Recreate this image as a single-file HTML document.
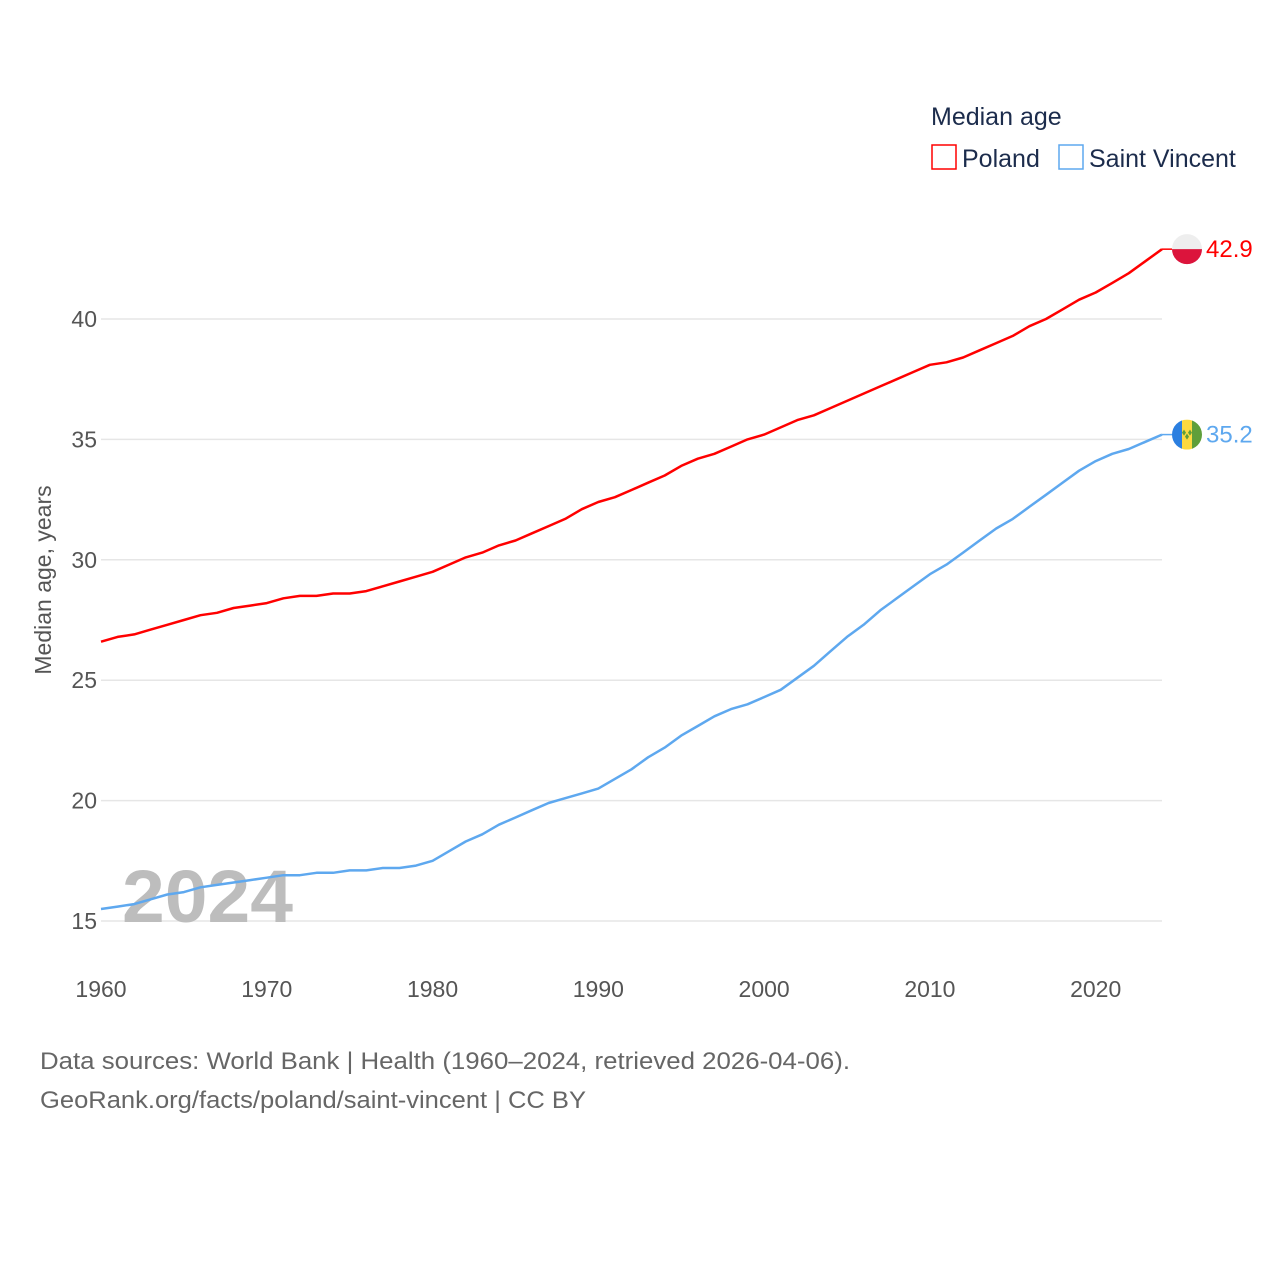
<!DOCTYPE html>
<html><head><meta charset="utf-8"><style>
body{margin:0;background:#fff;}
svg text{font-family:"Liberation Sans",sans-serif;}
</style></head><body>
<svg id="chart" width="1280" height="1280" viewBox="0 0 1280 1280" xmlns="http://www.w3.org/2000/svg">
<rect width="1280" height="1280" fill="#fff"/>
<g id="grid"></g>
<g id="yticks"></g>
<g id="xticks"></g>
<text x="122" y="922" font-size="74" font-weight="bold" fill="#bdbdbd" textLength="171" lengthAdjust="spacingAndGlyphs">2024</text>
<g id="lines"></g>
<text transform="translate(51,580) rotate(-90)" text-anchor="middle" font-size="23" fill="#555">Median age, years</text>
<text x="931" y="125" font-size="25" fill="#1c2c4c">Median age</text>
<g>
<rect x="932" y="145" width="24" height="24" fill="none" stroke="#ff0000" stroke-width="1.5"/>
<text x="962" y="167" font-size="25" fill="#1c2c4c">Poland</text></g>
<g>
<rect x="1059" y="145" width="24" height="24" fill="none" stroke="#5ea8ef" stroke-width="1.5"/>
<text x="1089" y="167" font-size="25" fill="#1c2c4c">Saint Vincent</text></g>
<text x="40" y="1069" font-size="24" fill="#666" textLength="810" lengthAdjust="spacingAndGlyphs">Data sources: World Bank | Health (1960–2024, retrieved 2026-04-06).</text>
<text x="40" y="1108" font-size="24" fill="#666" textLength="546" lengthAdjust="spacingAndGlyphs">GeoRank.org/facts/poland/saint-vincent | CC BY</text>
</svg>
<script>
const years=[];for(let y=1960;y<=2024;y++)years.push(y);
const poland=[26.6,26.8,26.9,27.1,27.3,27.5,27.7,27.8,28.0,28.1,
28.2,28.4,28.5,28.5,28.6,28.6,28.7,28.9,29.1,29.3,
29.5,29.8,30.1,30.3,30.6,30.8,31.1,31.4,31.7,32.1,
32.4,32.6,32.9,33.2,33.5,33.9,34.2,34.4,34.7,35.0,
35.2,35.5,35.8,36.0,36.3,36.6,36.9,37.2,37.5,37.8,
38.1,38.2,38.4,38.7,39.0,39.3,39.7,40.0,40.4,40.8,
41.1,41.5,41.9,42.4,42.9];
const saintVincent=[15.5,15.6,15.7,15.9,16.1,16.2,16.4,16.5,16.6,16.7,
16.8,16.9,16.9,17.0,17.0,17.1,17.1,17.2,17.2,17.3,
17.5,17.9,18.3,18.6,19.0,19.3,19.6,19.9,20.1,20.3,
20.5,20.9,21.3,21.8,22.2,22.7,23.1,23.5,23.8,24.0,
24.3,24.6,25.1,25.6,26.2,26.8,27.3,27.9,28.4,28.9,
29.4,29.8,30.3,30.8,31.3,31.7,32.2,32.7,33.2,33.7,
34.1,34.4,34.6,34.9,35.2];
const yTicks=[15,20,25,30,35,40];
const xTicks=[1960,1970,1980,1990,2000,2010,2020];
const NS="http://www.w3.org/2000/svg";
const X=v=>101+(v-1960)*(1061/64);
const Y=v=>921-(v-15)*(602/25);
function mk(tag,attrs,parent){const e=document.createElementNS(NS,tag);for(const k in attrs)e.setAttribute(k,attrs[k]);parent.appendChild(e);return e;}
const grid=document.getElementById('grid'),yt=document.getElementById('yticks'),xt=document.getElementById('xticks'),lines=document.getElementById('lines');
yTicks.forEach(t=>{
 const l=mk('line',{x1:101,x2:1162,y1:Y(t),y2:Y(t),stroke:'#e6e6e6','stroke-width':1.5},grid);
 
 
 const tx=mk('text',{x:97,y:Y(t)+8,'text-anchor':'end','font-size':23,fill:'#555'},yt);
 tx.textContent=t;
 
 
});
xTicks.forEach(t=>{
 const tx=mk('text',{x:X(t),y:997,'text-anchor':'middle','font-size':23,fill:'#555'},xt);
 tx.textContent=t;
 
 
});
function series(vals,color,name,label,flag){
 const d=vals.map((v,i)=>(i?'L':'M')+X(years[i]).toFixed(1)+','+Y(v).toFixed(1)).join(' ');
 const p=mk('path',{d:d,fill:'none',stroke:color,'stroke-width':2.5,'stroke-linejoin':'round'},lines);
 
 
 const last=vals[vals.length-1],ly=Y(last),lx=X(years[years.length-1]);
 mk('line',{x1:lx,x2:lx+10,y1:ly,y2:ly,stroke:color,'stroke-width':1.5},lines);
 const g=mk('g',{},lines);
 
 
 flag(g,1187,ly);
 const t=mk('text',{x:1206,y:ly+8,'font-size':24,fill:color},lines);
 t.textContent=last.toFixed(1);
 
 
}
series(poland,'#ff0000','poland','Poland',(g,cx,cy)=>{
 mk('circle',{cx:cx,cy:cy,r:15,fill:'#eeeeee'},g);
 mk('path',{d:`M${cx-15},${cy} A15,15 0 0 0 ${cx+15},${cy} Z`,fill:'#dc143c'},g);
});
series(saintVincent,'#5ea8ef','saint-vincent','Saint Vincent',(g,cx,cy)=>{
 const id='clipsv';const cp=mk('clipPath',{id:id},g);mk('circle',{cx:cx,cy:cy,r:15},cp);
 const gg=mk('g',{'clip-path':'url(#'+id+')'},g);
 mk('rect',{x:cx-15,y:cy-15,width:10,height:30,fill:'#2b7fe0'},gg);
 mk('rect',{x:cx-5,y:cy-15,width:10,height:30,fill:'#fcd940'},gg);
 mk('rect',{x:cx+5,y:cy-15,width:10,height:30,fill:'#5f9f3a'},gg);
 mk('path',{d:`M${cx},${cy-1} l2,3 l-2,3 l-2,-3Z M${cx-3},${cy-5} l2,3 l-2,3 l-2,-3Z M${cx+3},${cy-5} l2,3 l-2,3 l-2,-3Z`,fill:'#5f9f3a'},gg);
});
</script>
</body></html>
